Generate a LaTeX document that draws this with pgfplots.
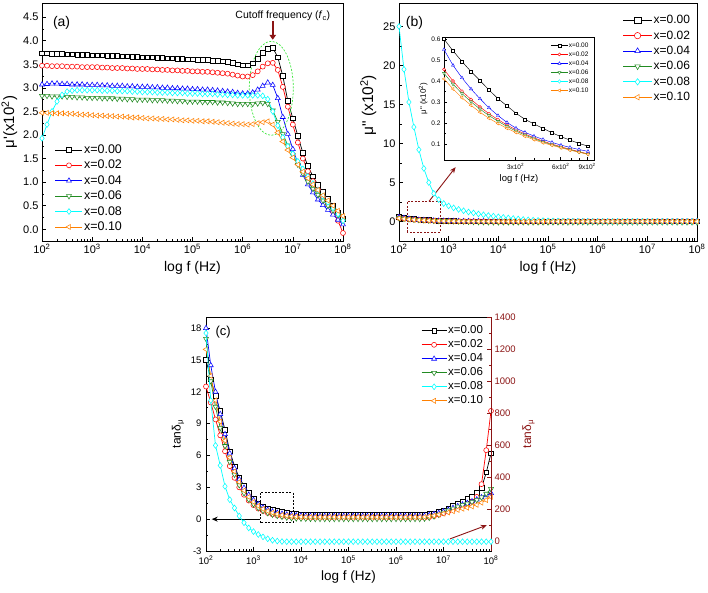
\documentclass[border=0pt]{standalone}
\usepackage{fontspec}
\setmainfont{Liberation Sans}
\usepackage{pgfplots}
\pgfplotsset{compat=1.18}
\usepackage{pgfplotstable}
\usetikzlibrary{arrows.meta}

\definecolor{dred}{RGB}{139,20,20}
\definecolor{cgreen}{RGB}{34,139,34}
\definecolor{corange}{RGB}{255,128,0}
\definecolor{ccyan}{RGB}{0,255,255}
\definecolor{cred}{RGB}{255,0,0}
\definecolor{cblue}{RGB}{0,0,255}
\definecolor{lgreen}{RGB}{60,230,60}

% mu' (x10^2), f in Hz
\pgfplotstableread{
f a0 a1 a2 a3 a4 a5
1.000e2 3.73 3.47 3.07 2.83 1.93 2.47
1.259e2 3.73 3.47 3.08 2.83 2.22 2.47
1.585e2 3.72 3.46 3.09 2.82 2.50 2.46
1.995e2 3.72 3.46 3.09 2.82 2.71 2.46
2.512e2 3.72 3.46 3.08 2.82 2.85 2.46
3.162e2 3.71 3.45 3.08 2.81 2.92 2.45
3.981e2 3.71 3.45 3.07 2.81 2.94 2.45
5.012e2 3.70 3.45 3.07 2.80 2.95 2.44
6.310e2 3.70 3.44 3.07 2.80 2.95 2.43
7.943e2 3.70 3.44 3.06 2.79 2.95 2.43
1.000e3 3.69 3.44 3.06 2.79 2.95 2.42
1.259e3 3.69 3.44 3.06 2.79 2.95 2.41
1.585e3 3.69 3.43 3.05 2.78 2.94 2.41
1.995e3 3.68 3.43 3.05 2.78 2.94 2.40
2.512e3 3.68 3.42 3.04 2.78 2.94 2.40
3.162e3 3.68 3.42 3.04 2.77 2.93 2.39
3.981e3 3.67 3.42 3.04 2.77 2.93 2.39
5.012e3 3.67 3.41 3.03 2.76 2.93 2.38
6.310e3 3.66 3.41 3.03 2.76 2.92 2.37
7.943e3 3.66 3.40 3.02 2.75 2.92 2.37
1.000e4 3.65 3.40 3.02 2.75 2.91 2.36
1.259e4 3.65 3.40 3.02 2.75 2.91 2.35
1.585e4 3.65 3.39 3.01 2.74 2.91 2.35
1.995e4 3.64 3.39 3.01 2.74 2.90 2.34
2.512e4 3.64 3.38 3.00 2.74 2.90 2.34
3.162e4 3.63 3.38 3.00 2.73 2.90 2.33
3.981e4 3.63 3.37 2.99 2.73 2.89 2.33
5.012e4 3.62 3.37 2.99 2.72 2.89 2.32
6.310e4 3.62 3.36 2.98 2.72 2.89 2.31
7.943e4 3.61 3.36 2.98 2.71 2.88 2.31
1.000e5 3.61 3.35 2.97 2.71 2.88 2.30
1.259e5 3.60 3.35 2.97 2.71 2.88 2.30
1.585e5 3.60 3.34 2.96 2.70 2.87 2.29
1.995e5 3.59 3.34 2.96 2.70 2.87 2.29
2.512e5 3.58 3.33 2.95 2.70 2.87 2.28
3.162e5 3.57 3.32 2.94 2.69 2.86 2.27
3.981e5 3.56 3.31 2.93 2.69 2.86 2.26
5.012e5 3.55 3.30 2.92 2.68 2.85 2.25
6.310e5 3.53 3.28 2.91 2.67 2.85 2.24
7.943e5 3.50 3.26 2.89 2.66 2.84 2.23
1.000e6 3.48 3.24 2.88 2.66 2.84 2.23
1.259e6 3.48 3.24 2.88 2.66 2.84 2.22
1.585e6 3.52 3.27 2.90 2.66 2.84 2.23
1.995e6 3.62 3.35 2.96 2.67 2.84 2.25
2.512e6 3.74 3.45 3.04 2.68 2.83 2.27
3.162e6 3.83 3.52 3.11 2.66 2.76 2.29
3.981e6 3.85 3.53 3.06 2.52 2.50 2.22
5.012e6 3.65 3.38 2.78 2.28 2.20 2.05
6.310e6 3.25 3.02 2.38 2.02 1.95 1.86
7.943e6 2.72 2.60 2.02 1.78 1.76 1.68
1.000e7 2.35 2.22 1.70 1.57 1.60 1.52
1.259e7 1.98 1.84 1.40 1.37 1.44 1.37
1.585e7 1.62 1.50 1.15 1.18 1.28 1.22
1.995e7 1.34 1.23 0.95 1.01 1.12 1.08
2.512e7 1.12 1.02 0.78 0.86 0.97 0.95
3.162e7 0.94 0.84 0.63 0.73 0.83 0.83
3.981e7 0.79 0.68 0.51 0.61 0.70 0.72
5.012e7 0.64 0.53 0.41 0.50 0.57 0.61
6.310e7 0.50 0.38 0.31 0.40 0.45 0.50
7.943e7 0.36 0.18 0.20 0.30 0.32 0.39
1.000e8 0.22 -0.08 0.10 0.18 0.18 0.28
}\tabA

% mu'' (x10^2)
\pgfplotstableread{
f b0 b1 b2 b3 b4 b5
1.000e2 0.600 0.455 0.550 0.437 25.0 0.410
1.259e2 0.510 0.370 0.435 0.355 19.5 0.335
1.585e2 0.430 0.298 0.345 0.288 15.3 0.272
1.995e2 0.357 0.244 0.272 0.235 12.1 0.222
2.512e2 0.293 0.198 0.212 0.191 9.2 0.181
3.162e2 0.237 0.161 0.168 0.155 6.8 0.148
3.981e2 0.195 0.129 0.137 0.125 5.0 0.120
5.012e2 0.160 0.103 0.111 0.100 3.6 0.097
6.310e2 0.128 0.082 0.090 0.079 2.8 0.077
7.943e2 0.102 0.063 0.073 0.061 2.3 0.060
1.000e3 0.082 0.046 0.058 0.046 2.0 0.046
1.259e3 0.066 0.036 0.046 0.030 1.75 0.036
1.585e3 0.053 0.028 0.037 0.010 1.55 0.028
1.995e3 0.043 0.022 0.030 -0.010 1.38 0.022
2.512e3 0.035 0.017 0.024 -0.030 1.22 0.017
3.162e3 0.029 0.013 0.019 -0.050 1.10 0.013
3.981e3 0.024 0.010 0.015 -0.070 0.97 0.010
5.012e3 0.020 0.008 0.012 -0.080 0.86 0.008
6.310e3 0.017 0.006 0.010 -0.090 0.76 0.006
7.943e3 0.014 0.005 0.008 -0.100 0.68 0.005
1.000e4 0.012 0.004 0.007 -0.100 0.60 0.004
1.259e4 0.010 0.003 0.006 -0.100 0.52 0.003
1.585e4 0.009 0.003 0.005 -0.100 0.45 0.003
1.995e4 0.008 0.002 0.004 -0.100 0.38 0.002
2.512e4 0.007 0.002 0.004 -0.100 0.32 0.002
3.162e4 0.006 0.002 0.003 -0.100 0.26 0.002
3.981e4 0.006 0.001 0.003 -0.100 0.21 0.001
5.012e4 0.005 0.001 0.003 -0.100 0.17 0.001
6.310e4 0.005 0.001 0.002 -0.100 0.14 0.001
7.943e4 0.004 0.001 0.002 -0.100 0.11 0.001
1.000e5 0.004 0.001 0.002 -0.100 0.09 0.001
1.259e5 0.004 0.001 0.002 -0.100 0.07 0.001
1.585e5 0.004 0.001 0.002 -0.100 0.06 0.001
1.995e5 0.004 0.001 0.002 -0.100 0.05 0.001
2.512e5 0.004 0.001 0.002 -0.100 0.04 0.001
3.162e5 0.004 0.001 0.002 -0.100 0.035 0.001
3.981e5 0.004 0.001 0.002 -0.100 0.03 0.001
5.012e5 0.004 0.001 0.002 -0.100 0.025 0.001
6.310e5 0.004 0.001 0.002 -0.100 0.02 0.001
7.943e5 0.004 0.001 0.002 -0.100 0.02 0.001
1.000e6 0.004 0.001 0.002 -0.100 0.015 0.001
1.259e6 0.004 0.001 0.002 -0.100 0.01 0.001
1.585e6 0.004 0.001 0.002 -0.100 0.01 0.001
1.995e6 0.004 0.001 0.002 -0.100 0.01 0.001
2.512e6 0.004 0.001 0.002 -0.100 0.01 0.001
3.162e6 0.004 0.001 0.002 -0.100 0.01 0.001
3.981e6 0.004 0.001 0.002 -0.100 0.01 0.001
5.012e6 0.004 0.001 0.002 -0.100 0.01 0.001
6.310e6 0.004 0.001 0.002 -0.100 0.01 0.001
7.943e6 0.004 0.001 0.002 -0.100 0.01 0.001
1.000e7 0.004 0.001 0.002 -0.100 0.01 0.001
1.259e7 0.004 0.001 0.002 -0.100 0.005 0.001
1.585e7 0.004 0.001 0.002 -0.100 0.005 0.001
1.995e7 0.004 0.001 0.002 -0.100 0.005 0.001
2.512e7 0.004 0.001 0.002 -0.100 0.005 0.001
3.162e7 0.004 0.001 0.002 -0.100 0.005 0.001
3.981e7 0.004 0.001 0.002 -0.100 0.005 0.001
5.012e7 0.004 0.001 0.002 -0.100 0.005 0.001
6.310e7 0.004 0.001 0.002 -0.100 0.005 0.001
7.943e7 0.004 0.001 0.002 -0.100 0.005 0.001
1.000e8 0.004 0.001 0.002 -0.100 0.005 0.001
}\tabB

% inset: mu'' between 100 Hz and 1 kHz
\pgfplotstableread{
f i0 i1 i2 i3 i4 i5
100.0 0.600 0.455 0.550 0.437 25.0 0.410
114.8 0.544 0.400 0.475 0.385 22.0 0.362
131.8 0.493 0.352 0.415 0.340 19.2 0.320
151.4 0.445 0.312 0.362 0.301 16.8 0.284
173.8 0.402 0.276 0.315 0.266 14.8 0.251
199.5 0.357 0.244 0.272 0.235 13.0 0.222
229.1 0.316 0.216 0.235 0.208 11.2 0.197
263.0 0.281 0.190 0.202 0.183 9.6 0.174
302.0 0.246 0.167 0.175 0.161 8.2 0.154
346.7 0.217 0.147 0.155 0.142 7.0 0.136
398.1 0.195 0.129 0.137 0.125 5.9 0.120
457.1 0.174 0.113 0.121 0.109 5.0 0.105
524.8 0.153 0.099 0.107 0.096 4.2 0.093
602.6 0.134 0.086 0.094 0.083 3.5 0.081
691.8 0.118 0.074 0.083 0.072 3.0 0.070
794.3 0.102 0.063 0.073 0.061 2.5 0.060
912.0 0.089 0.052 0.064 0.051 2.2 0.050
}\tabI

% tan delta; c4 (x=0.08) belongs to the right axis
\pgfplotstableread{
f c0 c1 c2 c3 c4 c5
1.000e2 15.0 12.5 18.0 17.0 1300 16.0
1.259e2 13.2 11.0 14.5 13.0 880 13.5
1.585e2 11.6 9.4 12.0 10.6 600 11.2
1.995e2 10.2 7.9 9.9 8.6 475 9.2
2.512e2 8.4 6.4 8.0 6.9 345 7.4
3.162e2 6.4 5.0 6.2 5.4 262 5.8
3.981e2 5.0 3.9 4.8 4.2 210 4.5
5.012e2 3.9 3.0 3.75 3.2 160 3.5
6.310e2 3.15 2.3 2.95 2.45 118 2.7
7.943e2 2.5 1.75 2.3 1.85 86 2.1
1.000e3 1.98 1.32 1.8 1.4 63 1.62
1.259e3 1.51 1.0 1.4 1.05 45 1.25
1.585e3 1.22 0.76 1.1 0.78 30 0.97
1.995e3 1.02 0.58 0.88 0.58 18 0.76
2.512e3 0.90 0.45 0.72 0.43 9 0.60
3.162e3 0.78 0.36 0.60 0.32 4 0.48
3.981e3 0.68 0.29 0.50 0.23 1 0.39
5.012e3 0.60 0.24 0.43 0.16 0 0.32
6.310e3 0.53 0.20 0.38 0.11 0 0.27
7.943e3 0.48 0.18 0.35 0.08 0 0.24
1.000e4 0.45 0.16 0.33 0.06 0 0.22
1.259e4 0.42 0.15 0.32 0.05 0 0.21
1.585e4 0.41 0.14 0.31 0.04 0 0.20
1.995e4 0.40 0.13 0.30 0.03 0 0.20
2.512e4 0.40 0.13 0.30 0.03 0 0.20
3.162e4 0.40 0.13 0.30 0.03 0 0.20
3.981e4 0.40 0.13 0.30 0.03 0 0.20
5.012e4 0.40 0.13 0.30 0.03 0 0.20
6.310e4 0.40 0.13 0.30 0.03 0 0.20
7.943e4 0.40 0.13 0.30 0.03 0 0.20
1.000e5 0.40 0.13 0.30 0.03 0 0.20
1.259e5 0.40 0.13 0.30 0.03 0 0.20
1.585e5 0.40 0.13 0.30 0.03 0 0.20
1.995e5 0.40 0.13 0.30 0.03 0 0.20
2.512e5 0.40 0.13 0.30 0.03 0 0.20
3.162e5 0.40 0.13 0.30 0.03 0 0.20
3.981e5 0.40 0.13 0.30 0.03 0 0.20
5.012e5 0.40 0.13 0.30 0.03 0 0.20
6.310e5 0.40 0.13 0.30 0.03 0 0.20
7.943e5 0.40 0.13 0.30 0.03 0 0.20
1.000e6 0.40 0.13 0.30 0.03 0 0.20
1.259e6 0.40 0.13 0.30 0.03 0 0.20
1.585e6 0.40 0.13 0.30 0.03 0 0.20
1.995e6 0.40 0.13 0.30 0.03 0 0.20
2.512e6 0.40 0.13 0.30 0.03 0 0.20
3.162e6 0.40 0.13 0.30 0.03 0 0.20
3.981e6 0.42 0.14 0.32 0.06 0 0.21
5.012e6 0.48 0.20 0.38 0.14 0 0.26
6.310e6 0.57 0.30 0.47 0.27 0 0.33
7.943e6 0.68 0.42 0.58 0.43 0 0.42
1.000e7 0.82 0.56 0.72 0.62 0 0.52
1.259e7 1.00 0.72 0.88 0.82 0 0.63
1.585e7 1.25 0.88 1.05 1.00 0 0.75
1.995e7 1.50 1.05 1.22 1.18 0 0.87
2.512e7 1.70 1.22 1.38 1.33 0 0.98
3.162e7 1.90 1.40 1.52 1.47 0 1.08
3.981e7 2.12 1.65 1.67 1.62 0 1.20
5.012e7 2.50 2.10 1.85 1.80 0 1.35
6.310e7 2.95 3.30 2.05 2.05 0 1.55
7.943e7 4.40 6.50 2.25 2.40 0 1.80
1.000e8 6.20 10.20 2.45 2.85 0 2.10
}\tabC

\pgfplotsset{
  every axis/.append style={
    scale only axis, anchor=south west,
    xmode=log, log basis x=10, xmin=1e2, xmax=1e8,
    tick pos=left, tick align=inside,
    major tick length=4.5pt, minor tick length=2.5pt,
    tick style={black, line width=0.6pt},
    axis line style={line width=0.8pt},
    /pgf/number format/assume math mode=true,
    /pgf/number format/1000 sep={},
    legend cell align=left,
  },
  decadelabels/.style={xticklabel={10\textsuperscript{\pgfmathprintnumber{\tick}}}},
  ser0/.style={black, line width=0.7pt, mark=square*, mark size=2.3pt,
    mark options={solid, fill=white, line width=0.55pt}},
  ser1/.style={cred, line width=0.7pt, mark=*, mark size=2.5pt,
    mark options={solid, fill=white, line width=0.55pt}},
  ser2/.style={cblue, line width=0.7pt, mark=triangle*, mark size=2.9pt,
    mark options={solid, fill=white, line width=0.55pt}},
  ser3/.style={cgreen, line width=0.7pt, mark=triangle*, mark size=2.9pt,
    mark options={solid, fill=white, line width=0.55pt, rotate=180}},
  ser4/.style={ccyan, line width=0.7pt, mark=diamond*, mark size=2.9pt,
    mark options={solid, fill=white, line width=0.55pt}},
  ser5/.style={corange, line width=0.7pt, mark=triangle*, mark size=2.9pt,
    mark options={solid, fill=white, line width=0.55pt, rotate=90}},
}

\begin{document}
\begin{tikzpicture}
\useasboundingbox (0,0) rectangle (708pt,592pt);

% ---------------- (a)
\begin{axis}[decadelabels, at={(42pt,351pt)}, width=301pt, height=238pt,
  ymin=-0.25, ymax=4.8, ytick={0,0.5,1,1.5,2,2.5,3,3.5,4,4.5}, minor y tick num=1,
  yticklabel style={/pgf/number format/.cd, fixed, fixed zerofill, precision=1},
  tick label style={font=\fontsize{11}{13}\selectfont},
  xlabel style={font=\fontsize{14}{16}\selectfont},
  ylabel style={font=\fontsize{15}{17}\selectfont, at={(axis description cs:-0.108,0.5)}, anchor=center},
  xlabel={log f (Hz)}, ylabel={μ\textquotesingle(x10\textsuperscript{2})},
  legend image code/.code={\draw[mark repeat=2,mark phase=2,#1] plot coordinates {(0pt,0pt) (13.5pt,0pt) (27pt,0pt)};},
  legend style={draw=none, fill=none, at={(0.033,0.42)}, anchor=north west,
    font=\fontsize{12.5}{14}\selectfont, row sep=2pt,
    nodes={inner sep=1.2pt, text height=9pt, text depth=2pt}},
]
\addplot[ser0] table[x=f,y=a0] {\tabA}; \addlegendentry{x=0.00}
\addplot[ser1] table[x=f,y=a1] {\tabA}; \addlegendentry{x=0.02}
\addplot[ser2] table[x=f,y=a2] {\tabA}; \addlegendentry{x=0.04}
\addplot[ser3] table[x=f,y=a3] {\tabA}; \addlegendentry{x=0.06}
\addplot[ser4] table[x=f,y=a4] {\tabA}; \addlegendentry{x=0.08}
\addplot[ser5] table[x=f,y=a5] {\tabA}; \addlegendentry{x=0.10}
\draw[lgreen, line width=0.7pt, dash pattern=on 2pt off 1.5pt] (axis cs:3.72e6,2.99) ellipse [x radius=22pt, y radius=47pt];
\draw[dred, line width=1.8pt, -{Triangle[length=5pt,width=6.5pt]}] (axis cs:3.98e6,4.42) -- (axis cs:3.98e6,4.02);
\node[font=\fontsize{10.5}{12}\selectfont] at (axis description cs:0.80,0.945) {Cutoff frequency (\textit{f}\textsubscript{c})};
\node[font=\fontsize{14}{16}\selectfont] at (axis description cs:0.065,0.916) {(a)};
\end{axis}

% ---------------- (b)
\begin{axis}[decadelabels, at={(399pt,351pt)}, width=298pt, height=238pt,
  ymin=-2.5, ymax=28, ytick={0,5,10,15,20,25}, minor y tick num=1,
  tick label style={font=\fontsize{11}{13}\selectfont},
  xlabel style={font=\fontsize{14}{16}\selectfont},
  ylabel style={font=\fontsize{15.5}{17}\selectfont, at={(ticklabel cs:0.57)}},
  xlabel={log f (Hz)}, ylabel={μ\textquotedbl{} (x10\textsuperscript{2})},
  legend image code/.code={\draw[mark repeat=2,mark phase=2,#1,mark size=3.2pt] plot coordinates {(0pt,0pt) (14.5pt,0pt) (29pt,0pt)};},
  legend style={draw=none, fill=none, at={(0.74,0.965)}, anchor=north west,
    font=\fontsize{12}{14}\selectfont, row sep=2pt,
    nodes={inner sep=1.2pt, text height=9pt, text depth=2pt}},
]
\addplot[ser0] table[x=f,y=b0] {\tabB}; \addlegendentry{x=0.00}
\addplot[ser1] table[x=f,y=b1] {\tabB}; \addlegendentry{x=0.02}
\addplot[ser2] table[x=f,y=b2] {\tabB}; \addlegendentry{x=0.04}
\addplot[ser3] table[x=f,y=b3] {\tabB}; \addlegendentry{x=0.06}
\addplot[ser4] table[x=f,y=b4] {\tabB}; \addlegendentry{x=0.08}
\addplot[ser5] table[x=f,y=b5] {\tabB}; \addlegendentry{x=0.10}
\draw[dred, line width=0.8pt, dash pattern=on 2pt off 1.5pt] (axis cs:147,-1.37) rectangle (axis cs:668,2.58);
\draw[dred, line width=0.9pt, -{Stealth[length=6pt,width=5pt]}] (axis cs:402,2.58) -- (axis cs:1380,6.96);
\node[font=\fontsize{14}{16}\selectfont] at (axis description cs:0.052,0.916) {(b)};
\end{axis}

% inset
\begin{axis}[at={(444pt,432pt)}, width=150pt, height=123pt,
  xmin=100, xmax=1000, ymin=0.023, ymax=0.61,
  xtick={300,600,900}, xticklabels={3x10\textsuperscript{2},6x10\textsuperscript{2},9x10\textsuperscript{2}},
  minor xtick={200,400,500,700,800},
  ytick={0.1,0.2,0.3,0.4,0.5,0.6}, minor y tick num=1,
  yticklabel style={/pgf/number format/.cd, fixed, fixed zerofill, precision=1},
  major tick length=3pt, minor tick length=1.7pt,
  tick style={black, line width=0.5pt}, axis line style={line width=0.6pt},
  axis background/.style={fill=white},
  tick label style={font=\fontsize{6.5}{7.5}\selectfont},
  xlabel={log f (Hz)}, ylabel={μ\textquotedbl{} (x10\textsuperscript{2})},
  xlabel style={font=\fontsize{9.5}{11}\selectfont, yshift=2pt},
  ylabel style={font=\fontsize{8}{9}\selectfont, yshift=-3pt},
  legend image code/.code={\draw[mark repeat=2,mark phase=2,#1] plot coordinates {(0pt,0pt) (8.5pt,0pt) (17pt,0pt)};},
  legend style={draw=none, fill=none, at={(0.69,0.98)}, anchor=north west,
    font=\fontsize{6.5}{7.5}\selectfont, row sep=1.4pt,
    nodes={inner sep=0.6pt, text height=5pt, text depth=1.4pt}},
]
\addplot[ser0, line width=0.45pt, mark size=1.4pt, mark options={solid, fill=white, line width=0.4pt}] table[x=f,y=i0] {\tabI}; \addlegendentry{x=0.00}
\addplot[ser1, line width=0.45pt, mark size=1.5pt, mark options={solid, fill=white, line width=0.4pt}] table[x=f,y=i1] {\tabI}; \addlegendentry{x=0.02}
\addplot[ser2, line width=0.45pt, mark size=1.8pt, mark options={solid, fill=white, line width=0.4pt}] table[x=f,y=i2] {\tabI}; \addlegendentry{x=0.04}
\addplot[ser3, line width=0.45pt, mark size=1.8pt, mark options={solid, fill=white, line width=0.4pt, rotate=180}] table[x=f,y=i3] {\tabI}; \addlegendentry{x=0.06}
\addplot[ser4, line width=0.45pt, mark size=1.8pt, mark options={solid, fill=white, line width=0.4pt}] table[x=f,y=i4] {\tabI}; \addlegendentry{x=0.08}
\addplot[ser5, line width=0.45pt, mark size=1.8pt, mark options={solid, fill=white, line width=0.4pt, rotate=90}] table[x=f,y=i5] {\tabI}; \addlegendentry{x=0.10}
\end{axis}

% ---------------- (c)
\begin{axis}[decadelabels, at={(206pt,41pt)}, width=285pt, height=234pt,
  ymin=-3, ymax=19.05, ytick={-3,0,3,6,9,12,15,18}, minor y tick num=1,
  tick label style={font=\fontsize{9.5}{11}\selectfont},
  yticklabel style={xshift=-1pt},
  xticklabel style={yshift=-1pt},
  xlabel style={font=\fontsize{13.5}{15}\selectfont},
  ylabel style={font=\fontsize{12}{14}\selectfont},
  xlabel={log f (Hz)}, ylabel={tanδ\textsubscript{μ}},
  legend image code/.code={\draw[mark repeat=2,mark phase=2,#1] plot coordinates {(0pt,0pt) (12.5pt,0pt) (25pt,0pt)};},
  legend style={draw=none, fill=none, at={(0.744,0.979)}, anchor=north west,
    font=\fontsize{11.5}{13}\selectfont, row sep=0.6pt,
    nodes={inner sep=1.2pt, text height=8.5pt, text depth=2.5pt}},
]
\addplot[ser0] table[x=f,y=c0] {\tabC}; \addlegendentry{x=0.00}
\addplot[ser1] table[x=f,y=c1] {\tabC}; \addlegendentry{x=0.02}
\addplot[ser2] table[x=f,y=c2] {\tabC}; \addlegendentry{x=0.04}
\addplot[ser3] table[x=f,y=c3] {\tabC}; \addlegendentry{x=0.06}
\addlegendimage{ser4} \addlegendentry{x=0.08}
\addplot[ser5] table[x=f,y=c5] {\tabC}; \addlegendentry{x=0.10}
\draw[black, line width=0.7pt, dash pattern=on 2pt off 1.5pt] (axis cs:1.37e3,-0.32) rectangle (axis cs:6.77e3,2.51);
\draw[black, line width=0.8pt, -{Stealth[length=6pt,width=5pt]}] (axis cs:1.37e3,0) -- (axis cs:132,0);
\draw[dred, line width=0.9pt, -{Stealth[length=6pt,width=5pt]}] (axis cs:1.37e7,-1.86) -- (axis cs:8.13e7,-0.57);
\node[font=\fontsize{13}{15}\selectfont] at (axis description cs:0.06,0.937) {(c)};
\end{axis}
\begin{axis}[at={(206pt,41pt)}, width=285pt, height=234pt,
  axis x line=none, axis y line*=right,
  ymin=-58, ymax=1400, ytick={0,200,400,600,800,1000,1200,1400}, minor y tick num=1,
  ytick style={dred, line width=0.6pt},
  y axis line style={dred, line width=0.8pt},
  yticklabel style={dred, font=\fontsize{9.5}{11}\selectfont},
  ylabel={tanδ\textsubscript{μ}},
  ylabel style={dred, font=\fontsize{12}{14}\selectfont},
]
\addplot[ser4] table[x=f,y=c4] {\tabC};
\end{axis}
\end{tikzpicture}
\end{document}
